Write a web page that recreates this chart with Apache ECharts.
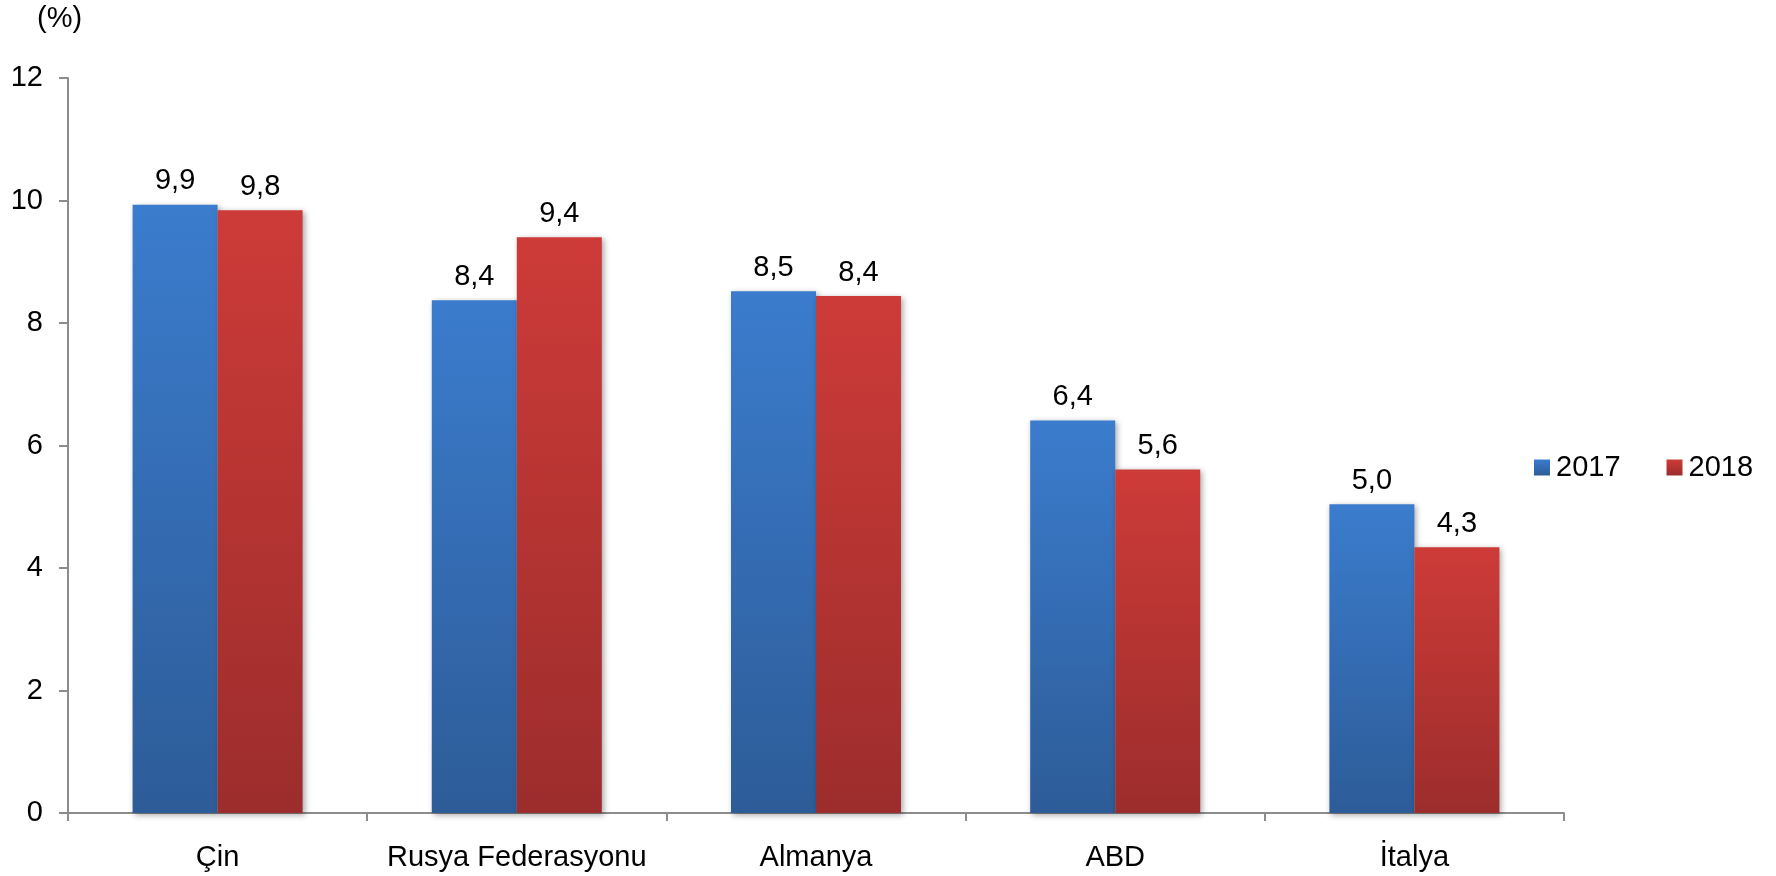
<!DOCTYPE html>
<html>
<head>
<meta charset="utf-8">
<script src="https://cdn.jsdelivr.net/npm/echarts@6/dist/echarts.min.js"></script>
<style>
html,body{margin:0;padding:0;background:#fff;}
#c{width:1776px;height:876px;}
</style>
</head>
<body>
<div id="c"></div>
<script>
var categories = ['Çin', 'Rusya Federasyonu', 'Almanya', 'ABD', 'İtalya'];
var seriesNames = ['2017', '2018'];
var values2017 = [9.93, 8.37, 8.52, 6.41, 5.04];
var values2018 = [9.84, 9.40, 8.44, 5.61, 4.34];
var yTicks = [0, 2, 4, 6, 8, 10, 12];
var unitLabel = '(%)';

var FONT = '"Liberation Sans", Arial, sans-serif';
var FS = 29;

function grad(top, bottom) {
  return new echarts.graphic.LinearGradient(0, 0, 0, 1, [
    {offset: 0, color: top},
    {offset: 1, color: bottom}
  ]);
}

var labelCfg = {
  show: true,
  position: 'top',
  distance: 9,
  color: '#000',
  fontFamily: FONT,
  fontSize: FS,
  formatter: function (p) { return p.value.toFixed(1).replace('.', ','); }
};

var shadow = {
  shadowColor: 'rgba(0,0,0,0.35)',
  shadowBlur: 6,
  shadowOffsetX: 2,
  shadowOffsetY: 2
};

var chart = echarts.init(document.getElementById('c'));
chart.setOption({
  animation: false,
  backgroundColor: '#fff',
  textStyle: {fontFamily: FONT},
  graphic: [{
    type: 'text',
    left: 37,
    top: 4,
    style: {text: unitLabel, fontFamily: FONT, fontSize: FS, fill: '#000'}
  }],
  legend: {
    data: seriesNames,
    left: 1534,
    top: 453,
    padding: 0,
    itemWidth: 16,
    itemHeight: 16,
    itemGap: 46,
    icon: 'rect',
    textStyle: {fontFamily: FONT, fontSize: FS, color: '#000', padding: [0, 0, 0, 1]}
  },
  grid: {left: 68, right: 212, top: 78, bottom: 63, containLabel: false},
  xAxis: {
    type: 'category',
    data: categories,
    axisLine: {lineStyle: {color: '#8c8c8c', width: 2}},
    axisTick: {show: true, alignWithLabel: false, length: 8, lineStyle: {color: '#8c8c8c', width: 2}},
    axisLabel: {color: '#000', fontFamily: FONT, fontSize: FS, margin: 30, interval: 0}
  },
  yAxis: {
    type: 'value',
    min: yTicks[0],
    max: yTicks[yTicks.length - 1],
    interval: yTicks[1] - yTicks[0],
    splitLine: {show: false},
    axisLine: {show: true, lineStyle: {color: '#8c8c8c', width: 2}},
    axisTick: {show: true, length: 9, lineStyle: {color: '#8c8c8c', width: 2}},
    axisLabel: {color: '#000', fontFamily: FONT, fontSize: FS, margin: 25}
  },
  series: [{
    name: seriesNames[0],
    type: 'bar',
    data: values2017,
    barWidth: 85,
    barGap: '0%',
    itemStyle: Object.assign({color: grad('#3b7ccd', '#2d5c98')}, shadow),
    label: labelCfg
  }, {
    name: seriesNames[1],
    type: 'bar',
    data: values2018,
    barWidth: 85,
    barGap: '0%',
    itemStyle: Object.assign({color: grad('#cd3b38', '#9c2d2c')}, shadow),
    label: labelCfg
  }]
});
</script>
</body>
</html>
